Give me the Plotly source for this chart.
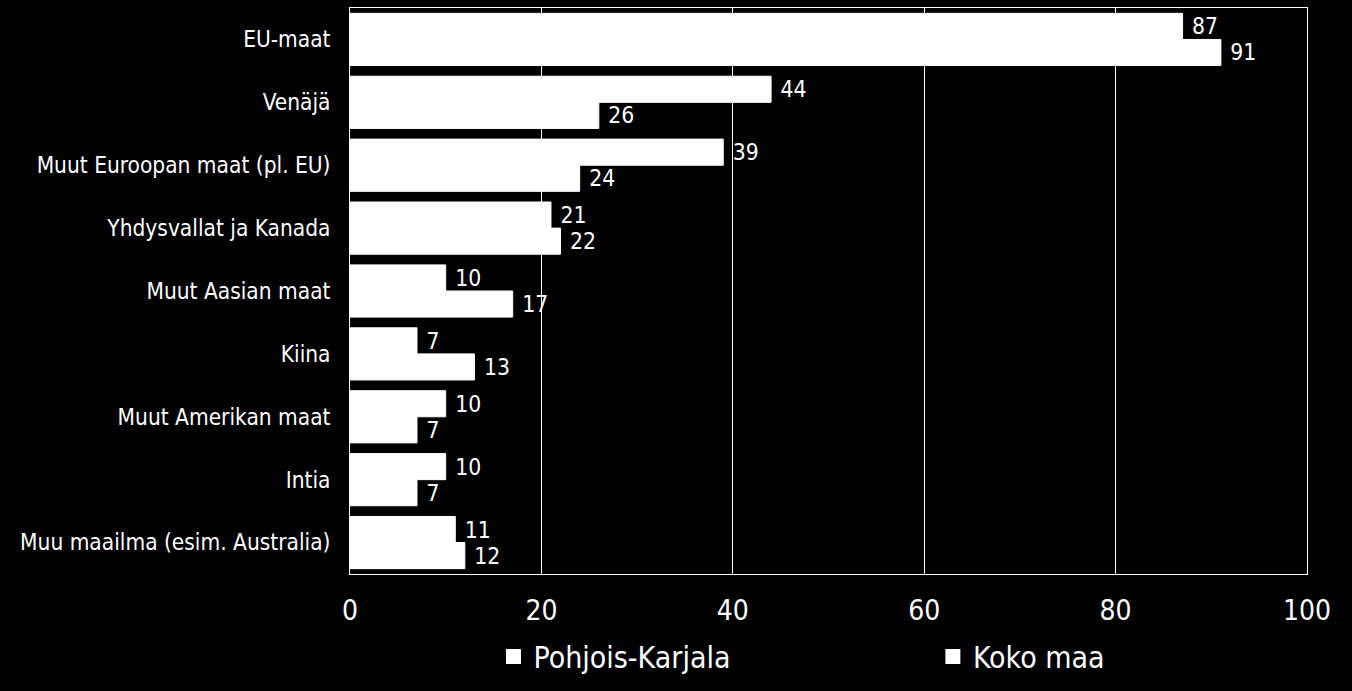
import plotly.graph_objects as go

# categories, top to bottom
categories = ["EU-maat", "Venäjä", "Muut Euroopan maat (pl. EU)", "Yhdysvallat ja Kanada",
              "Muut Aasian maat", "Kiina", "Muut Amerikan maat", "Intia",
              "Muu maailma (esim. Australia)"]
pohjois_karjala = [87, 44, 39, 21, 10, 7, 10, 10, 11]
koko_maa = [91, 26, 24, 22, 17, 13, 7, 7, 12]
series_names = ["Pohjois-Karjala", "Koko maa"]
x_ticks = [0, 20, 40, 60, 80, 100]

FONT = "DejaVu Sans Condensed"

fig = go.Figure()
for name, vals in zip(series_names, [pohjois_karjala, koko_maa]):
    fig.add_trace(go.Bar(
        y=categories, x=vals, name=name, orientation="h", showlegend=False,
        marker=dict(color="white", line=dict(width=1, color="white")),
        text=["\u00a0" + str(v) for v in vals], textposition="outside", cliponaxis=False,
        textfont=dict(color="white", size=27, family=FONT),
    ))
# legend entries (one legend each so they can sit far apart like the original)
for name, leg in zip(series_names, ["legend", "legend2"]):
    fig.add_trace(go.Scatter(
        x=[None], y=[None], name=name, mode="markers", legend=leg,
        marker=dict(symbol="square", size=15, color="white"),
    ))

leg_style = dict(orientation="h", xref="container", yref="container", y=0.05,
                 xanchor="left", yanchor="middle", bgcolor="rgba(0,0,0,0)",
                 font=dict(size=30, color="white", family=FONT))

fig.update_layout(
    width=1352, height=691,
    paper_bgcolor="black", plot_bgcolor="black",
    margin=dict(l=350, r=45, t=8, b=117, autoexpand=False),
    barmode="group", bargap=0.17, bargroupgap=0,
    font=dict(family=FONT, color="white"),
    showlegend=True,
    legend=dict(x=0.365, **leg_style),
    legend2=dict(x=0.69, **leg_style),
)
fig.update_xaxes(range=[0, 100], tickvals=x_ticks, showgrid=True, gridcolor="white", gridwidth=1,
                 showline=True, linecolor="white", linewidth=1, mirror=True, zeroline=False,
                 automargin=False,
                 tickfont=dict(size=28, color="white", family=FONT), ticklabelstandoff=11)
fig.update_yaxes(autorange="reversed", showline=True, linecolor="white", linewidth=1, mirror=True,
                 showgrid=False, automargin=False,
                 tickfont=dict(size=22.5, color="white", family=FONT),
                 ticklabelstandoff=14)

fig.write_html("out.html", config={"displayModeBar": False},
               post_script="document.body.style.margin='0';document.body.style.background='black';")
